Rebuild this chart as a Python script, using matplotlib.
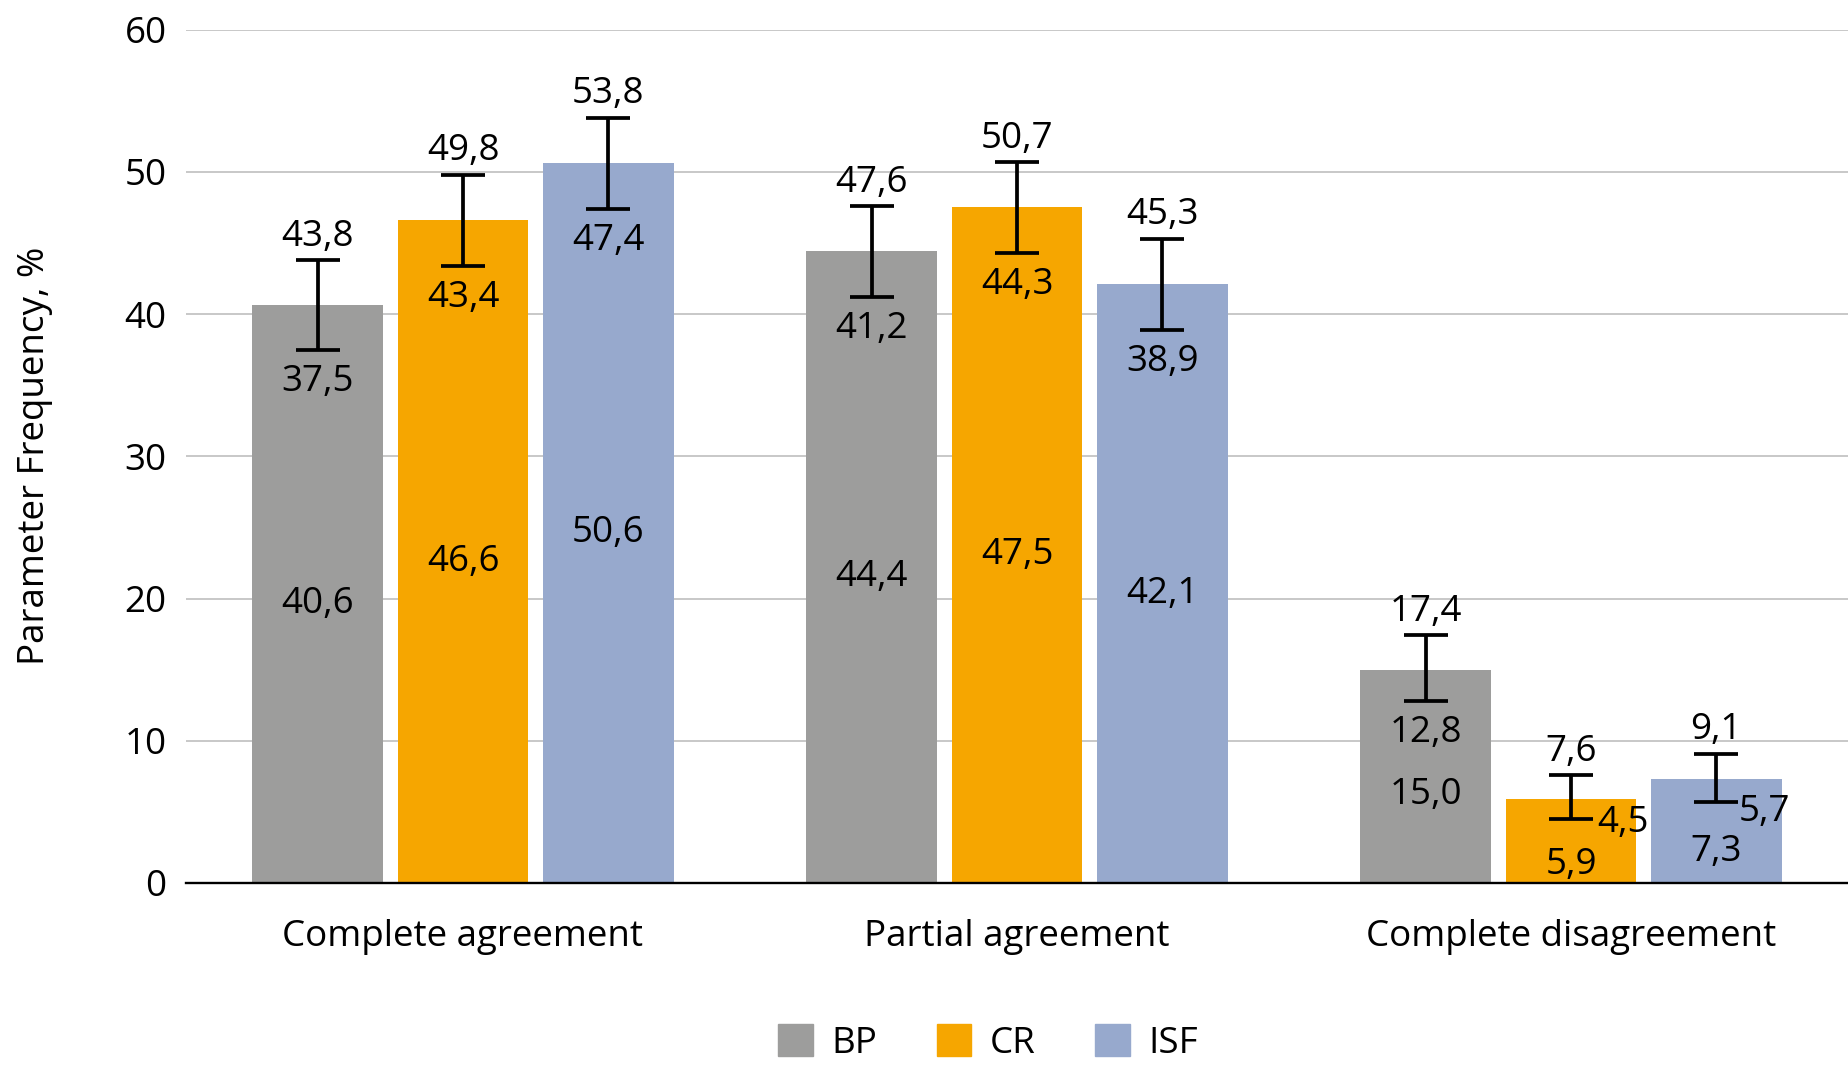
import numpy as np
import matplotlib
matplotlib.use("Agg")
import matplotlib.pyplot as plt
from matplotlib.patches import Patch

# data
categories = ["Complete agreement", "Partial agreement", "Complete disagreement"]
series = ["BP", "CR", "ISF"]
bp_mean = [40.6, 44.4, 15.0]
bp_low = [37.5, 41.2, 12.8]
bp_high = [43.8, 47.6, 17.4]
cr_mean = [46.6, 47.5, 5.9]
cr_low = [43.4, 44.3, 4.5]
cr_high = [49.8, 50.7, 7.6]
isf_mean = [50.6, 42.1, 7.3]
isf_low = [47.4, 38.9, 5.7]
isf_high = [53.8, 45.3, 9.1]
yticks = [0, 10, 20, 30, 40, 50, 60]

colors = ["#9d9d9c", "#f6a600", "#97a9cd"]

# label layout tweaks for the small bars
mid_y_override = {(0, 2): 6.5, (1, 2): 1.6, (2, 2): 2.5}
lower_right = {(1, 2): 19, (2, 2): 16}
lower_dy = {(2, 2): -4}

plt.rcParams["font.family"] = ["Open Sans", "DejaVu Sans"]
FS = 26.5

def fmt(v):
    return f"{v:.1f}".replace(".", ",")

fig = plt.figure(figsize=(18.48, 10.73), dpi=100)
ax = fig.add_axes([186 / 1848, 1 - 883 / 1073, 1 - 186 / 1848, (883 - 29.5) / 1073])

x = np.arange(len(categories))
width = 0.236
step = 0.262
data = [(bp_mean, bp_low, bp_high), (cr_mean, cr_low, cr_high), (isf_mean, isf_low, isf_high)]

for i, (m, lo, hi) in enumerate(data):
    m = np.array(m); lo = np.array(lo); hi = np.array(hi)
    xs = x + (i - 1) * step
    ax.bar(xs, m, width, color=colors[i], label=series[i], zorder=2)
    ax.errorbar(xs, m, yerr=[m - lo, hi - m], fmt="none", ecolor="black",
                elinewidth=2.7, capsize=16, capthick=2.7, zorder=3)
    for j in range(len(categories)):
        ax.annotate(fmt(hi[j]), (xs[j], hi[j]), xytext=(0, 20), textcoords="offset points",
                    ha="center", va="center_baseline", fontsize=FS, zorder=4)
        if (i, j) in lower_right:
            ax.annotate(fmt(lo[j]), (xs[j], lo[j]),
                        xytext=(lower_right[(i, j)], lower_dy.get((i, j), 0)),
                        textcoords="offset points", ha="left", va="center_baseline",
                        fontsize=FS, zorder=4)
        else:
            ax.annotate(fmt(lo[j]), (xs[j], lo[j]), xytext=(0, -20), textcoords="offset points",
                        ha="center", va="center_baseline", fontsize=FS, zorder=4)
        ym = mid_y_override.get((i, j), m[j] / 2 - 0.4)
        ax.text(xs[j], ym, fmt(m[j]), ha="center", va="center_baseline", fontsize=FS, zorder=4)

ax.set_xlim(-0.5, 2.5)
ax.set_ylim(0, 60)
ax.set_yticks(yticks)
ax.set_xticks(x)
ax.set_xticklabels(categories)
ax.tick_params(axis="both", length=0, labelsize=FS)
ax.tick_params(axis="y", pad=14)
ax.tick_params(axis="x", pad=26)
ax.yaxis.grid(True, color="#bfbfbf", linewidth=1.2, zorder=0)
ax.set_axisbelow(True)
for s in ["top", "right", "left"]:
    ax.spines[s].set_visible(False)
ax.spines["bottom"].set_linewidth(1.7)
ax.spines["bottom"].set_zorder(3)

fig.text(35 / 1848, 1 - 456 / 1073, "Parameter Frequency, %", rotation=90,
         ha="center", va="center", fontsize=FS)

handles = [Patch(color=c) for c in colors]
fig.legend(handles, series, loc="center", bbox_to_anchor=(988 / 1848, 1 - 1043 / 1073),
           ncol=3, frameon=False, fontsize=FS, handlelength=0.95, handleheight=0.95,
           handletextpad=0.5, columnspacing=1.6)

fig.savefig("out.png", dpi=100)
